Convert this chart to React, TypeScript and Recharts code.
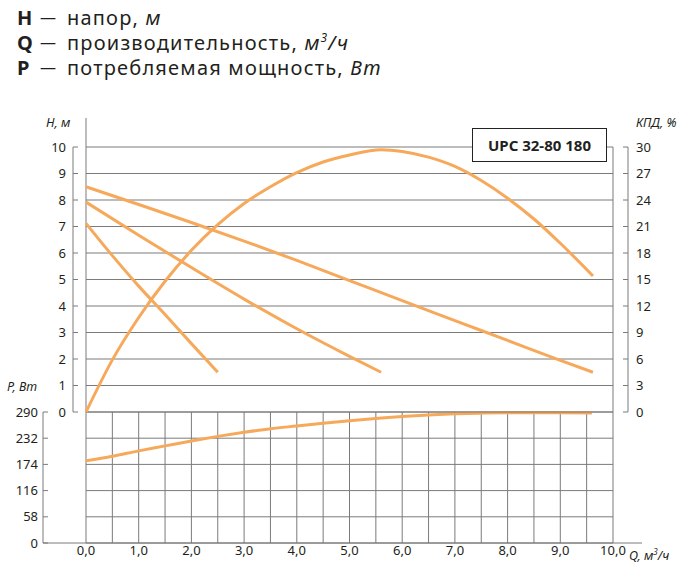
import React from 'react';
import { LineChart, Line, XAxis, YAxis, CartesianGrid } from 'recharts';

// Q grid (every 0,5 m³/h), labels only on whole numbers
const qGrid = [0, 0.5, 1, 1.5, 2, 2.5, 3, 3.5, 4, 4.5, 5, 5.5, 6, 6.5, 7, 7.5, 8, 8.5, 9, 9.5, 10];
const hTicks = [0, 1, 2, 3, 4, 5, 6, 7, 8, 9, 10];
const kpdTicks = [0, 3, 6, 9, 12, 15, 18, 21, 24, 27, 30];
const pTicks = [0, 58, 116, 174, 232, 290];

// head curves, H (m) vs Q
const headSpeed1 = [
  { q: 0, h: 7.12 }, { q: 0.5, h: 5.9 }, { q: 1, h: 4.75 },
  { q: 1.5, h: 3.68 }, { q: 2, h: 2.58 }, { q: 2.5, h: 1.5 },
];
const headSpeed2 = [
  { q: 0, h: 7.92 }, { q: 1, h: 6.67 }, { q: 2, h: 5.45 }, { q: 3, h: 4.26 },
  { q: 4, h: 3.14 }, { q: 5, h: 2.1 }, { q: 5.6, h: 1.5 },
];
const headSpeed3 = [
  { q: 0, h: 8.5 }, { q: 1, h: 7.83 }, { q: 2, h: 7.15 }, { q: 3, h: 6.45 },
  { q: 4, h: 5.72 }, { q: 5, h: 4.96 }, { q: 6, h: 4.2 }, { q: 7, h: 3.45 },
  { q: 8, h: 2.7 }, { q: 9, h: 1.95 }, { q: 9.62, h: 1.5 },
];

// efficiency, %
const efficiency = [
  { q: 0, k: 0 }, { q: 0.5, k: 5.9 }, { q: 1, k: 10.7 }, { q: 1.5, k: 14.8 },
  { q: 2, k: 18.3 }, { q: 2.5, k: 21.2 }, { q: 3, k: 23.6 }, { q: 3.5, k: 25.5 },
  { q: 4, k: 27.1 }, { q: 4.5, k: 28.3 }, { q: 5, k: 29.1 }, { q: 5.6, k: 29.7 },
  { q: 6, k: 29.5 }, { q: 6.5, k: 28.85 }, { q: 7, k: 27.8 }, { q: 7.5, k: 26.2 },
  { q: 8, k: 24.2 }, { q: 8.5, k: 21.85 }, { q: 9, k: 19.1 }, { q: 9.62, k: 15.4 },
];

// power, W
const power = [
  { q: 0, p: 182 }, { q: 0.5, p: 192 }, { q: 1, p: 204 }, { q: 1.5, p: 215 },
  { q: 2, p: 226 }, { q: 2.5, p: 236 }, { q: 3, p: 245 }, { q: 3.5, p: 253 },
  { q: 4, p: 259 }, { q: 4.5, p: 265 }, { q: 5, p: 270.5 }, { q: 5.5, p: 275.5 },
  { q: 6, p: 280 }, { q: 6.5, p: 283.5 }, { q: 7, p: 286 }, { q: 7.5, p: 287.5 },
  { q: 8, p: 288.3 }, { q: 8.5, p: 288.5 }, { q: 9, p: 288.2 }, { q: 9.6, p: 287.8 },
];

const W = 685;
const H = 570;
const ORANGE = '#f6a95b';
const GRID = '#7b7b7b';
const INK = '#231f20';
const FONT = '"Noto Sans", "Open Sans", sans-serif';

const yTick = (side: 'left' | 'right', gap: number) => (props: any) => {
  const { x, y, payload } = props;
  const axisX = side === 'left' ? x + gap : x - gap;
  const inner = side === 'left' ? axisX + 5 : axisX - 5;
  return (
    <g>
      <line x1={axisX} x2={inner} y1={y} y2={y} stroke={GRID} strokeWidth={1} />
      <text x={x} y={y + 4.5} textAnchor={side === 'left' ? 'end' : 'start'}
        fontSize={13} fill={INK} fontFamily={FONT}>{payload.value}</text>
    </g>
  );
};

const qTick = (props: any) => {
  const { x, y, payload } = props;
  const v = payload.value as number;
  if (!Number.isInteger(v)) return <g />;
  return (
    <text x={x} y={y + 12} textAnchor="middle" fontSize={13} fill={INK} fontFamily={FONT}>
      {v.toFixed(1).replace('.', ',')}
    </text>
  );
};

const abs: React.CSSProperties = { position: 'absolute', left: 0, top: 0 };
const italic: React.CSSProperties = {
  position: 'absolute', fontStyle: 'italic', fontSize: 12.5, color: INK, fontFamily: FONT, whiteSpace: 'nowrap',
};

const HeaderLine = ({ top, letter, children }: { top: number; letter: string; children: React.ReactNode }) => (
  <div style={{ position: 'absolute', left: 0, top, height: 25, lineHeight: '25px', fontSize: 20, color: INK, fontFamily: FONT, whiteSpace: 'nowrap' }}>
    <span style={{ position: 'absolute', left: 17, fontWeight: 700 }}>{letter}</span>
    <span style={{ position: 'absolute', left: 40, fontSize: 16 }}>—</span>
    <span style={{ position: 'absolute', left: 67, letterSpacing: 1.2 }}>{children}</span>
  </div>
);

export default function App() {
  return (
    <div style={{ position: 'absolute', left: 0, top: 0, width: W, height: H, background: '#fff', overflow: 'hidden' }}>
      <HeaderLine top={5} letter="H">напор, <i>м</i></HeaderLine>
      <HeaderLine top={30} letter="Q">производительность, <i>м<sup style={{ fontSize: 12, lineHeight: 0 }}>3</sup>/ч</i></HeaderLine>
      <HeaderLine top={55} letter="P">потребляемая мощность, <i>Вт</i></HeaderLine>

      {/* power section */}
      <div style={abs}>
        <LineChart width={W} height={H} margin={{ top: 412, right: 72, bottom: 5, left: 0 }}>
          <CartesianGrid xAxisId="q" yAxisId="p" stroke={GRID} strokeWidth={1} />
          <XAxis xAxisId="q" type="number" dataKey="q" domain={[0, 10]} ticks={qGrid} interval={0}
            height={22} axisLine={false} tickLine={false} tickSize={0} tickMargin={0} tick={qTick} />
          <YAxis yAxisId="aPadP" orientation="left" width={43} tick={false} axisLine={false} tickLine={false} />
          <YAxis yAxisId="p" orientation="left" width={43} type="number" domain={[0, 290]} ticks={pTicks}
            interval={0} stroke={GRID} tickLine={false} tickSize={0} tickMargin={5} tick={yTick('left', 5)} />
          <Line xAxisId="q" yAxisId="p" data={power} dataKey="p" type="monotone" stroke={ORANGE}
            strokeWidth={3} dot={false} isAnimationActive={false} />
        </LineChart>
      </div>

      {/* head + efficiency section */}
      <div style={abs}>
        <LineChart width={W} height={H} margin={{ top: 147, right: 27, bottom: 158, left: 33 }}>
          <CartesianGrid xAxisId="q" yAxisId="h" stroke={GRID} strokeWidth={1} />
          <XAxis xAxisId="q" type="number" dataKey="q" domain={[0, 10]} ticks={qGrid} interval={0}
            height={0} tick={false} axisLine={false} tickLine={false} />
          <YAxis yAxisId="aPadL" orientation="left" width={13} tick={false} axisLine={false} tickLine={false} />
          <YAxis yAxisId="h" orientation="left" width={40} type="number" domain={[0, 10]} ticks={hTicks}
            interval={0} stroke={GRID} tickLine={false} tickSize={0} tickMargin={7} tick={yTick('left', 7)} />
          <YAxis yAxisId="aPadR" orientation="right" width={15} tick={false} axisLine={false} tickLine={false} />
          <YAxis yAxisId="kpd" orientation="right" width={30} type="number" domain={[0, 30]} ticks={kpdTicks}
            interval={0} stroke={GRID} tickLine={false} tickSize={0} tickMargin={8} tick={yTick('right', 8)} />
          <Line xAxisId="q" yAxisId="h" data={headSpeed1} dataKey="h" type="monotone" stroke={ORANGE}
            strokeWidth={3} dot={false} isAnimationActive={false} />
          <Line xAxisId="q" yAxisId="h" data={headSpeed2} dataKey="h" type="monotone" stroke={ORANGE}
            strokeWidth={3} dot={false} isAnimationActive={false} />
          <Line xAxisId="q" yAxisId="h" data={headSpeed3} dataKey="h" type="monotone" stroke={ORANGE}
            strokeWidth={3} dot={false} isAnimationActive={false} />
          <Line xAxisId="q" yAxisId="kpd" data={efficiency} dataKey="k" type="monotone" stroke={ORANGE}
            strokeWidth={3} dot={false} isAnimationActive={false} />
        </LineChart>
      </div>

      {/* axis extensions */}
      <svg width={W} height={H} style={abs}>
        <line x1={86} x2={86} y1={118} y2={147} stroke={GRID} strokeWidth={1} />
        <line x1={43} x2={642} y1={543} y2={543} stroke={GRID} strokeWidth={1} />
      </svg>

      <div style={{
        position: 'absolute', left: 472, top: 128, width: 133, height: 32, border: '1px solid #222',
        background: '#fff', fontFamily: FONT, fontWeight: 700, fontSize: 15, color: INK,
        display: 'flex', alignItems: 'center', justifyContent: 'center',
      }}>UPC 32-80 180</div>

      <span style={{ ...italic, left: 46, top: 114 }}>H, м</span>
      <span style={{ ...italic, left: 636, top: 114 }}>КПД, %</span>
      <span style={{ ...italic, left: 7, top: 378 }}>P, Вт</span>
      <span style={{ ...italic, left: 629, top: 547 }}>Q, м<sup style={{ fontSize: 8, lineHeight: 0 }}>3</sup>/ч</span>
    </div>
  );
}
